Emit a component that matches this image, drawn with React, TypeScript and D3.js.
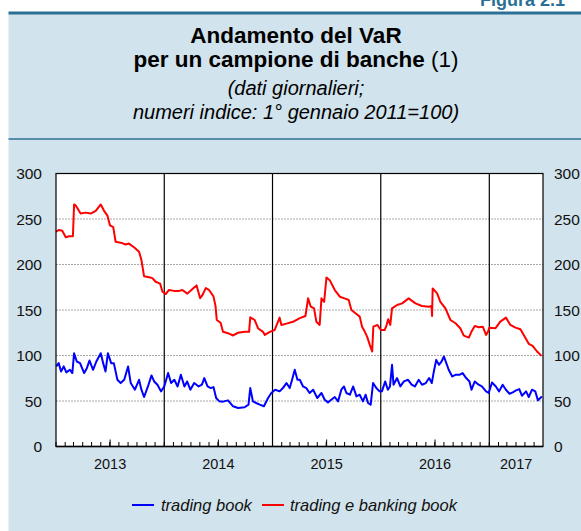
import React from 'react';
import * as d3 from 'd3';

// VaR index, 1 Jan 2011 = 100
const tradingBook: [string, number][] = [
  ['2013-01-02', 88], ['2013-01-10', 91.6], ['2013-01-18', 82.5], ['2013-01-27', 88],
  ['2013-02-05', 81.4], ['2013-02-17', 84.3], ['2013-02-25', 80.7], ['2013-03-03', 102.5],
  ['2013-03-12', 93.4], ['2013-03-23', 91.6], ['2013-04-06', 80.7], ['2013-04-15', 86.1],
  ['2013-04-24', 94.5], ['2013-05-06', 84.3], ['2013-05-17', 93.4], ['2013-06-01', 102.5],
  ['2013-06-09', 91.6], ['2013-06-17', 82.5], ['2013-06-25', 102.5], ['2013-07-06', 91.6],
  ['2013-07-15', 91.6], ['2013-07-27', 73.3], ['2013-08-07', 69.7], ['2013-08-19', 73.3],
  ['2013-09-01', 88], ['2013-09-10', 69.7], ['2013-09-24', 62.4], ['2013-10-08', 73.3],
  ['2013-10-16', 62.4], ['2013-10-25', 54.4], ['2013-11-07', 66], ['2013-11-19', 78.1],
  ['2013-11-28', 71.5], ['2013-12-09', 67.9], ['2013-12-21', 60.6], ['2014-01-01', 66],
  ['2014-01-14', 80.7], ['2014-01-24', 69.7], ['2014-02-04', 73.3], ['2014-02-15', 66],
  ['2014-02-26', 78.8], ['2014-03-10', 66], ['2014-03-19', 71.5], ['2014-03-30', 62.4],
  ['2014-04-12', 69.7], ['2014-04-27', 66], ['2014-05-08', 67.9], ['2014-05-16', 75.2],
  ['2014-05-27', 66], ['2014-06-07', 64.2], ['2014-06-16', 65.3], ['2014-06-25', 53.3],
  ['2014-07-06', 49.6], ['2014-07-18', 49.3], ['2014-08-04', 50.7], ['2014-08-21', 44.2],
  ['2014-09-07', 42.3], ['2014-09-29', 43.1], ['2014-10-12', 46], ['2014-10-18', 64.2],
  ['2014-10-27', 49.6], ['2014-11-07', 47.8], ['2014-11-19', 46], ['2014-12-03', 44.2],
  ['2014-12-17', 53.3], ['2014-12-28', 58.8], ['2015-01-10', 62.4], ['2015-01-25', 60.6],
  ['2015-02-05', 64.2], ['2015-02-17', 69.7], ['2015-02-28', 64.2], ['2015-03-08', 73.3],
  ['2015-03-17', 84.3], ['2015-03-26', 73.3], ['2015-04-03', 73.3], ['2015-04-14', 66],
  ['2015-04-25', 64.2], ['2015-05-06', 58.8], ['2015-05-18', 62.4], ['2015-06-01', 53.3],
  ['2015-06-15', 58.8], ['2015-06-26', 51.4], ['2015-07-07', 48.5], ['2015-07-18', 51.4],
  ['2015-07-30', 54.4], ['2015-08-10', 49.6], ['2015-08-21', 62.4], ['2015-08-30', 66],
  ['2015-09-07', 58.8], ['2015-09-19', 56.9], ['2015-09-30', 66], ['2015-10-11', 55.1],
  ['2015-10-22', 56.9], ['2015-11-02', 49.6], ['2015-11-11', 56.9], ['2015-11-19', 47.8],
  ['2015-11-28', 46], ['2015-12-06', 69.7], ['2015-12-17', 64.2], ['2015-12-28', 60.6],
  ['2016-01-05', 60.6], ['2016-01-16', 71.5], ['2016-01-25', 62.4], ['2016-02-01', 66],
  ['2016-02-08', 89.8], ['2016-02-13', 67.9], ['2016-02-25', 75.2], ['2016-03-07', 66],
  ['2016-03-19', 71.5], ['2016-04-02', 73.3], ['2016-04-14', 67.9], ['2016-04-25', 66],
  ['2016-05-08', 73.3], ['2016-05-19', 67.9], ['2016-06-01', 69.7], ['2016-06-12', 75.2],
  ['2016-06-21', 69.7], ['2016-06-28', 82.5], ['2016-07-06', 95.2], ['2016-07-15', 89.8],
  ['2016-07-24', 93.4], ['2016-08-01', 98.9], ['2016-08-09', 91.6], ['2016-08-17', 84.3],
  ['2016-08-29', 77], ['2016-09-09', 78.8], ['2016-09-22', 78.8], ['2016-10-03', 80.7],
  ['2016-10-15', 75.2], ['2016-10-26', 71.5], ['2016-11-02', 62.4], ['2016-11-13', 71.5],
  ['2016-11-26', 67.9], ['2016-12-07', 66], ['2016-12-21', 60.6], ['2016-12-30', 58.8],
  ['2017-01-10', 70.4], ['2017-01-23', 66], ['2017-02-03', 60.6], ['2017-02-15', 67.9],
  ['2017-02-26', 62.4], ['2017-03-10', 58], ['2017-03-21', 59.5], ['2017-04-01', 61.7],
  ['2017-04-12', 63.1], ['2017-04-21', 55.8], ['2017-05-05', 60.6], ['2017-05-14', 54.4],
  ['2017-05-25', 62.4], ['2017-06-05', 60.6], ['2017-06-14', 50.7], ['2017-06-22', 53.3],
  ['2017-06-27', 55.1],
];

const tradingBankingBook: [string, number][] = [
  ['2013-01-01', 236], ['2013-01-11', 238], ['2013-01-22', 237], ['2013-02-03', 230],
  ['2013-02-14', 231], ['2013-02-27', 231], ['2013-03-03', 266], ['2013-03-08', 265],
  ['2013-03-25', 256], ['2013-04-11', 257], ['2013-04-28', 256], ['2013-05-15', 259],
  ['2013-06-01', 266], ['2013-06-12', 259], ['2013-06-23', 254], ['2013-07-02', 243],
  ['2013-07-13', 241], ['2013-07-21', 225], ['2013-08-07', 224], ['2013-08-24', 222],
  ['2013-09-04', 223], ['2013-09-21', 219], ['2013-10-08', 214], ['2013-10-16', 205],
  ['2013-10-25', 187], ['2013-11-11', 186], ['2013-11-22', 185], ['2013-12-03', 181],
  ['2013-12-18', 179], ['2013-12-26', 170], ['2014-01-06', 167.5], ['2014-01-17', 172],
  ['2014-02-03', 171], ['2014-02-20', 171], ['2014-03-03', 172], ['2014-03-20', 168],
  ['2014-04-06', 173], ['2014-04-20', 177], ['2014-05-02', 163], ['2014-05-09', 166],
  ['2014-05-21', 174], ['2014-06-01', 172], ['2014-06-16', 165], ['2014-06-23', 154],
  ['2014-06-27', 139], ['2014-07-10', 136], ['2014-07-18', 126], ['2014-08-04', 124.5],
  ['2014-08-21', 122], ['2014-09-07', 125], ['2014-09-29', 126], ['2014-10-14', 126],
  ['2014-10-18', 142], ['2014-11-02', 139], ['2014-11-13', 130], ['2014-11-30', 126],
  ['2014-12-06', 122.6], ['2014-12-23', 126], ['2015-01-08', 128], ['2015-01-25', 141.6],
  ['2015-01-31', 133.6], ['2015-02-17', 135], ['2015-03-11', 137], ['2015-04-03', 141],
  ['2015-04-22', 143.4], ['2015-05-01', 162.8], ['2015-05-10', 153.6], ['2015-05-21', 151.8],
  ['2015-05-29', 137], ['2015-06-09', 133.6], ['2015-06-15', 162.8], ['2015-06-24', 159],
  ['2015-07-02', 185.8], ['2015-07-13', 182.8], ['2015-07-30', 171.9], ['2015-08-16', 164.6],
  ['2015-09-01', 162.8], ['2015-09-15', 161], ['2015-09-24', 150], ['2015-10-11', 145.6],
  ['2015-10-22', 142.7], ['2015-10-30', 131.7], ['2015-11-08', 126.3], ['2015-11-16', 120.8],
  ['2015-11-25', 111.7], ['2015-12-03', 104.4], ['2015-12-07', 131.7], ['2015-12-21', 133.6],
  ['2016-01-01', 128], ['2016-01-14', 128], ['2016-01-19', 131.7], ['2016-01-26', 139.8],
  ['2016-02-02', 133.6], ['2016-02-08', 151.8], ['2016-02-25', 155.5], ['2016-03-13', 157.3],
  ['2016-04-04', 162.8], ['2016-04-27', 157.3], ['2016-05-19', 154.4], ['2016-06-11', 153.6],
  ['2016-06-20', 154.4], ['2016-06-22', 143.4], ['2016-06-24', 173.7], ['2016-07-09', 168.2],
  ['2016-07-20', 159], ['2016-08-06', 151.8], ['2016-08-23', 139], ['2016-09-09', 135.4],
  ['2016-09-25', 130], ['2016-10-07', 121.9], ['2016-10-24', 119.7], ['2016-11-02', 126.3],
  ['2016-11-13', 132.5], ['2016-11-26', 131], ['2016-12-10', 131.7], ['2016-12-21', 122.6],
  ['2016-12-28', 126.3], ['2017-01-01', 130.6], ['2017-01-22', 130], ['2017-02-07', 137.2],
  ['2017-02-26', 141.6], ['2017-03-13', 133.6], ['2017-03-30', 130.6], ['2017-04-16', 128.8],
  ['2017-04-27', 122.6], ['2017-05-14', 112.8], ['2017-05-27', 110.6], ['2017-06-11', 104.4],
  ['2017-06-26', 99.6],
];

const yearLabels = ['2013', '2014', '2015', '2016', '2017'];
const yTicks = [0, 50, 100, 150, 200, 250, 300];
const gridValues = [50, 100, 150, 200, 250];
const legendItems = [
  { label: 'trading book', color: '#0000ff' },
  { label: 'trading e banking book', color: '#ff0000' },
];

const W = 581;
const H = 531;
const FONT = '"Liberation Sans", Arial, Helvetica, sans-serif';
const TEAL = '#2b7094';
const PANEL = '#d1e3ec';

const parse = d3.timeParse('%Y-%m-%d');

const App: React.FC = () => {
  const start = parse('2013-01-01')!;
  const end = parse('2017-07-01')!;
  const x = d3.scaleTime().domain([start, end]).range([56, 543]);
  const y = d3.scaleLinear().domain([0, 300]).range([446.5, 173.5]);

  const line = d3
    .line<[string, number]>()
    .x((d) => x(parse(d[0])!))
    .y((d) => y(d[1]));

  const months = d3.timeMonth.range(start, end);
  const yearStarts = d3.timeYear.range(d3.timeYear.offset(start, 1), end);

  // label positions: centre of each (possibly partial) year
  const labelPos = yearLabels.map((yr) => {
    const a = parse(`${yr}-01-01`)!;
    const b = d3.min([parse(`${+yr + 1}-01-01`)!, end])!;
    return { yr, x: (x(a) + x(b)) / 2, tall: +b - +end !== 0 };
  });

  const [x0, x1] = x.range();
  const [yb, yt] = y.range();
  const cx = 296;

  return (
    <div style={{ position: 'absolute', left: 0, top: 0 }}>
      <svg width={W} height={H} style={{ display: 'block', fontFamily: FONT }}>
        <rect x={0} y={0} width={W} height={H} fill="#fff" />
        <text x={480} y={6} fontSize={18} fontWeight="bold" fill={TEAL}>
          Figura 2.1
        </text>
        <rect x={8.5} y={14} width={W} height={H} fill={PANEL} />
        <line x1={8.5} x2={W} y1={13} y2={13} stroke={TEAL} strokeWidth={3} />
        <line x1={8.5} x2={W} y1={139} y2={139} stroke={TEAL} strokeWidth={1.5} />

        {/* titles */}
        <text x={cx} y={43} textAnchor="middle" fontSize={22.5} fontWeight="bold" fill="#000">
          Andamento del VaR
        </text>
        <text x={cx} y={67} textAnchor="middle" fontSize={22.5} fill="#000">
          <tspan fontWeight="bold">per un campione di banche </tspan>
          <tspan>(1)</tspan>
        </text>
        <text x={cx} y={95} textAnchor="middle" fontSize={20} fontStyle="italic" fill="#000">
          (dati giornalieri;
        </text>
        <text x={cx} y={118.5} textAnchor="middle" fontSize={20} fontStyle="italic" fill="#000">
          numeri indice: 1° gennaio 2011=100)
        </text>

        {/* plot area */}
        <rect x={x0} y={yt} width={x1 - x0} height={yb - yt} fill="#fff" />
        {gridValues.map((v) => (
          <line
            key={v}
            x1={x0}
            x2={x1}
            y1={y(v)}
            y2={y(v)}
            stroke="#a8a8a8"
            strokeWidth={1}
            strokeDasharray="2,1"
          />
        ))}
        {yearStarts.map((d) => (
          <line key={+d} x1={x(d)} x2={x(d)} y1={yt} y2={yb} stroke="#000" strokeWidth={1.2} />
        ))}
        {months.map((d) => (
          <line key={+d} x1={x(d)} x2={x(d)} y1={yb} y2={yb - 4.5} stroke="#000" strokeWidth={1} />
        ))}
        {labelPos
          .filter((l) => l.tall)
          .map((l) => (
            <line key={l.yr} x1={l.x} x2={l.x} y1={yb} y2={yb - 7} stroke="#000" strokeWidth={1} />
          ))}

        <path d={line(tradingBankingBook) || ''} fill="none" stroke="#ff0000" strokeWidth={2} strokeLinejoin="round" />
        <path d={line(tradingBook) || ''} fill="none" stroke="#0000ff" strokeWidth={2} strokeLinejoin="round" />

        <rect x={x0} y={yt} width={x1 - x0} height={yb - yt} fill="none" stroke="#000" strokeWidth={1.2} />
        <line x1={x0} x2={x1} y1={yb} y2={yb} stroke="#000" strokeWidth={1.6} />

        {/* y labels both sides */}
        {yTicks.map((v) => (
          <g key={v} fontSize={15.5} fill="#111">
            <text x={42} y={y(v) + 5.5} textAnchor="end">
              {v}
            </text>
            <text x={554} y={y(v) + 5.5} textAnchor="start">
              {v}
            </text>
          </g>
        ))}

        {/* x labels */}
        {labelPos.map((l) => (
          <text key={l.yr} x={l.x} y={468.5} textAnchor="middle" fontSize={14.5} fill="#111">
            {l.yr}
          </text>
        ))}

        {/* legend */}
        <g fontSize={16.5} fontStyle="italic" fill="#111">
          <line x1={132} x2={154} y1={505} y2={505} stroke={legendItems[0].color} strokeWidth={2} />
          <text x={161} y={510.5}>{legendItems[0].label}</text>
          <line x1={262} x2={284} y1={505} y2={505} stroke={legendItems[1].color} strokeWidth={2} />
          <text x={290} y={510.5}>{legendItems[1].label}</text>
        </g>
      </svg>
    </div>
  );
};

export default App;
